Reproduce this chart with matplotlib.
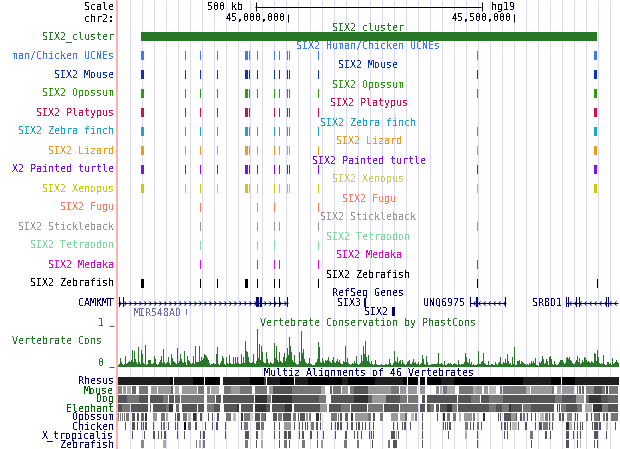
import numpy as np
import matplotlib
matplotlib.use("Agg")
import matplotlib.pyplot as plt
from matplotlib.path import Path

plt.rcParams['font.family'] = ['DejaVu Sans Mono']
plt.rcParams['text.antialiased'] = False

# ---------- data: browser columns ----------
cluster_span = (141, 597)
el_widths = {141: 3, 245: 3, 594: 3}
vert = [141, 185, 200, 217, 245, 249, 257, 274, 279, 287, 289, 318, 477, 594]
tracks = ["man/Chicken UCNEs", "SIX2 Mouse", "SIX2 Opossum", "SIX2 Platypus", "SIX2 Zebra finch",
          "SIX2 Lizard", "X2 Painted turtle", "SIX2 Xenopus", "SIX2 Fugu", "SIX2 Stickleback",
          "SIX2 Tetraodon", "SIX2 Medaka", "SIX2 Zebrafish"]
center_names = ["SIX2 Human/Chicken UCNEs", "SIX2 Mouse", "SIX2 Opossum", "SIX2 Platypus", "SIX2 Zebra finch",
                "SIX2 Lizard", "SIX2 Painted turtle", "SIX2 Xenopus", "SIX2 Fugu", "SIX2 Stickleback",
                "SIX2 Tetraodon", "SIX2 Medaka", "SIX2 Zebrafish"]
track_colors = ["#3f7bf0", "#0a35b8", "#339910", "#cc1155", "#1fa5c8", "#ee9a1a", "#7a11ee", "#cccc00",
                "#ff7b60", "#999999", "#7fdc9f", "#dd11cc", "#000000"]
center_colors = ["#3f7bf0", "#0a35b8", "#339910", "#cc1155", "#1fa5c8", "#ee9a1a", "#7a11ee", "#cccc66",
                 "#ff7b60", "#999999", "#7fdc9f", "#dd11cc", "#000000"]
track_elements = [
    vert, vert,
    vert,
    [141, 185, 200, 217, 245, 249, 274, 279, 287, 289, 318, 594],
    vert, vert, vert, vert,
    [200, 257, 274, 318],
    [200, 257, 274, 279, 318, 477],
    [200, 257, 274, 318],
    [200, 257, 274, 279, 318, 477],
    [141, 200, 217, 245, 257, 274, 279, 318, 477, 597],
]

cons_a = [2,3,9,5,3,2,3,11,3,4, 5,6,5,7,17,5,16,8,5,3, 20,5,3,17,13,4,3,22,2,3, 7,7,7,3,3,4,11,8,3,2,
          3,5,7,11,4,18,5,3,4,5, 10,4,2,13,9,6,5,4,3,19, 4,6,13,8,5,4,16,5,2,11, 7,6,4,3,4,11,3,21,5,5,
          5,21,6,10,7,9,13,12,11,9, 7,4,2,3,3,4,3,3,13,20, 3,2,4,6,11,9,3,2,10,4, 3,12,4,3,3,10,3,10,4,10,
          4,3,3,13,4,10,4,26]
cons_b = [16,15,10,5,4,4,5,13,4,3, 6,38,9,23,7,21,15,5,4,4, 15,8,4,3,5,4,3,4,24,9, 21,7,5,15,6,5,4,10,14,6,
          9,19,12,30,21,15,7,5,12,4, 3,2,3,15,6,36,14,18,8,5, 4,3,4,9,3,3,2,2,2,4, 5,8,25,20,5,4,9,6,4,7,
          6,7,10,6,5,4,7,10,5,4, 6,8,5,7,4,3,3,6,5,21, 5,9,4,3,2,3,4,3,6,4, 11,3,2,3,4,12,6,21,13,26,
          10,6,12,5,3,6,3,2,3,7]
cons_c = [3,2,2,2,2,3,2,2,2,3, 3,2,3,8,4,2,2,4,16,6, 5,10,4,6,7,3,7,4,3,2, 3,5,6,7,3,3,5,8,4,5,
          3,3,5,2,3,4,12,8,3,2, 11,5,2,2,2,3,3,3,3,3, 3,4,14,3,3,4,3,2,6,2, 2,3,4,3,4,3,2,3,4,3,
          3,2,7,3,2,3,3,3,5,14, 10,5,4,8,3,5,2,3,2,2, 2,3,16,3,3,5,6,14,4,3, 2,2,6,2,2,3,3,2,2,5]
cons_d = [3,2,4,5,10,3,3,5,4,8, 4,13,6,3,4,2,10,3,20,2, 2,6,6,7,3,6,5,4,3,3, 2,3,2,4,3,6,4,6,4,9,
          2,2,1,5,4,6,11,8,3,4, 8,6,2,10,11,8,3,2,6,3, 2,2,3,5,7,7,7,5,3,4, 9,10,8,10,7,6,4,3,3,5,
          7,11,5,9,3,4,7,5,10,9, 7,5,6,5,4,6,5,4,14,13, 6,17,10,4,3,4,3,12,3,2, 2,5,5,3,4,2,9,3,4,5,
          7,5,4]

rhesus = [(118,170,30),(170,173,0),(174,193,30),(193,204,0),(205,220,0),(223,250,30),(250,264,0),(264,266,60),
          (267,280,30),(280,294,0),(295,308,30),(308,342,0),(342,348,30),(348,375,0),(375,403,30),(403,407,0),
          (408,418,0),(420,425,0),(427,441,0),(441,454,30),(454,523,0),(523,551,30),(551,561,0),(562,575,0),(575,619,30)]
mouse = [(118,122,0x88),(123,126,0x99),(127,131,0xaa),(132,136,0x66),(139,148,0x77),(151,157,0x99),(158,171,0x99),
         (171,173,0x66),(175,179,0xaa),(182,197,0x99),(198,204,0x77),(207,210,0x88),(211,219,0xaa),(224,231,0x77),
         (231,240,0x99),(240,252,0x77),(255,267,0x77),(269,273,0x99),(273,292,0x55),(292,321,0x77),(321,325,0xaa),
         (330,332,0x66),(333,341,0x77),(342,348,0x99),(350,354,0x77),(354,368,0x55),(368,391,0x99),(391,399,0x77),
         (400,406,0x99),(408,417,0x99),(420,425,0x99),(436,439,0x88),(440,442,0xaa),(443,447,0x77),(447,455,0xaa),
         (459,473,0x77),(473,476,0xaa),(476,482,0x99),(484,488,0x99),(489,496,0xbb),(500,502,0x77),(503,526,0x77),
         (526,530,0xaa),(531,552,0x99),(552,554,0x77),(557,561,0xaa),(562,574,0x99),(577,578,0x66),(579,581,0x66),
         (582,584,0x66),(586,594,0x88),(594,602,0x55),(602,605,0x77),(606,608,0x44),(609,618,0x77)]
dog = [(118,127,0x55),(127,139,0x77),(139,148,0x55),(150,163,0x55),(163,168,0x77),(169,174,0x55),(175,180,0x66),
       (181,204,0x77),(207,215,0x77),(216,221,0x55),(223,254,0x55),(255,267,0x33),(267,271,0x77),(272,292,0x33),
       (292,319,0x55),(319,326,0x77),(331,354,0x55),(354,368,0x33),(368,372,0x66),(372,386,0x99),(386,400,0x55),
       (400,407,0x77),(408,418,0x77),(422,425,0x55),(427,457,0x55),(458,471,0x55),(471,480,0x77),(481,483,0x55),
       (483,489,0x55),(489,503,0x77),(503,529,0x55),(529,555,0x55),(555,562,0x77),(562,576,0x55),(576,584,0x99),
       (586,589,0x66),(589,601,0x33),(601,608,0x55),(608,618,0x66)]
elephant = [(118,122,0x55),(122,130,0x77),(131,148,0x55),(150,151,0x66),(153,166,0x55),(166,169,0x77),(169,173,0x33),
            (176,179,0x66),(182,197,0x55),(198,204,0x55),(207,214,0x77),(214,220,0x55),(224,237,0x55),(237,239,0x33),
            (241,253,0x55),(255,266,0x33),(266,270,0x55),(272,285,0x55),(285,292,0x33),(294,320,0x55),(320,327,0x99),
            (329,341,0x55),(341,350,0x77),(351,367,0x55),(368,383,0x77),(384,399,0x55),(400,408,0x77),(408,418,0x77),
            (420,425,0x55),(427,430,0x55),(430,434,0x77),(436,439,0x55),(440,447,0x55),(447,452,0x33),(452,457,0x77),
            (458,483,0x55),(483,489,0x55),(489,496,0x77),(496,502,0x55),(502,509,0x77),(509,511,0x33),(511,522,0x55),
            (523,531,0x77),(531,554,0x55),(557,558,0x44),(559,560,0x44),(561,566,0x77),(566,577,0x55),(577,582,0x77),
            (585,592,0xaa),(593,602,0x33),(602,608,0x77),(608,618,0x55)]
opossum = [(118,119,0x77),(120,121,0x77),(122,123,0x77),(124,125,0x77),(126,129,0x77),(132,135,0x55),(137,139,0x55),
           (141,144,0x66),(145,147,0x33),(153,157,0x99),(161,165,0x77),(166,168,0xaa),(175,176,0x55),(177,180,0x55),
           (183,187,0x77),(188,191,0xbb),(193,196,0x33),(196,197,0x77),(200,202,0x55),(208,209,0x55),(212,213,0x55),
           (217,219,0x55),(226,231,0x77),(233,236,0xbb),(241,243,0x33),(244,250,0x77),(250,253,0xcc),(255,260,0x55),
           (261,265,0x77),(265,266,0x55),(273,277,0x55),(278,282,0x77),(283,291,0x55),(293,296,0x77),(298,299,0x55),
           (300,305,0x55),(306,308,0x99),(309,311,0x77),(316,319,0x33),(320,321,0x55),(331,337,0x77),(338,339,0x77),
           (340,342,0x55),(345,348,0x66),(351,353,0x33),(355,368,0x99),(368,371,0x77),(373,375,0x55),(380,383,0x77),
           (391,398,0x99),(400,405,0xaa),(405,407,0x66),(411,414,0xbb),(415,417,0x77),(422,423,0x55),(430,431,0xdd),
           (437,438,0x55),(443,445,0x33),(447,450,0x77),(453,456,0x77),(459,461,0xbb),(464,472,0x99),(473,475,0x77),
           (477,479,0xcc),(483,485,0x33),(498,499,0x55),(500,501,0x55),(504,511,0x55),(511,516,0x99),(516,517,0x55),
           (520,522,0x55),(523,525,0x77),(527,528,0x55),(531,532,0x55),(535,536,0x55),(540,544,0xbb),(545,548,0x77),
           (549,550,0x55),(552,554,0x77),(559,561,0x55),(562,564,0x55),(567,572,0x88),(575,576,0x55),(577,578,0x55),
           (586,588,0x77),(591,592,0x55),(594,599,0x77),(599,600,0x55),(603,605,0x77),(606,608,0x55),(611,618,0x77)]
chicken = [(125,126,0x55),(132,135,0x55),(137,138,0x55),(141,142,0x55),(143,144,0x55),(145,147,0x55),(153,154,0x55),
           (161,162,0x55),(163,165,0x77),(168,169,0x55),(175,176,0x55),(177,178,0x55),(184,186,0x00),(188,191,0x77),
           (195,197,0x55),(205,206,0x55),(212,213,0x55),(216,218,0x55),(225,226,0x55),(241,242,0x55),(244,248,0x77),
           (256,260,0x55),(261,264,0x77),(274,275,0x55),(279,280,0x55),(284,291,0x99),(294,295,0x55),(299,300,0x55),
           (302,303,0x55),(305,306,0x55),(307,308,0x55),(311,314,0x77),(316,318,0x55),(320,321,0x55),(331,332,0x55),
           (335,336,0x55),(337,339,0x55),(340,342,0x55),(347,348,0x55),(351,353,0x55),(356,357,0x55),(358,360,0x55),
           (362,363,0x55),(365,366,0x55),(369,370,0x55),(373,374,0x55),(393,394,0x55),(397,398,0x55),(402,403,0x55),
           (404,406,0x55),(410,411,0x55),(422,423,0x55),(443,444,0x55),(445,446,0x55),(447,448,0x55),(449,451,0x55),
           (465,468,0x77),(470,471,0x55),(473,474,0x55),(477,479,0x77),(481,482,0x55),(501,502,0x55),(504,506,0x55),
           (507,508,0x55),(510,511,0x55),(512,517,0xbb),(518,519,0x55),(525,527,0x55),(535,536,0x55),(539,542,0x55),
           (543,548,0x77),(549,550,0x55),(552,553,0x55),(566,569,0x33),(569,572,0xbb),(574,575,0x55),(577,578,0x55),
           (580,581,0x55),(582,583,0x55),(592,593,0x55),(594,598,0x55),(599,601,0x55),(606,608,0xbb),(615,616,0x55)]
xtrop = [(132,133,0x55),(144,145,0x55),(153,155,0x55),(158,159,0x55),(161,162,0x55),(164,166,0x55),(177,178,0x55),
         (184,185,0x55),(200,201,0x55),(203,205,0x55),(225,226,0x55),(245,249,0x55),(256,258,0x55),(261,263,0xcc),
         (274,275,0x55),(279,280,0x55),(284,287,0x55),(288,291,0x55),(299,300,0x55),(302,304,0x55),(310,312,0x55),
         (317,318,0x55),(323,324,0x55),(335,336,0x55),(345,347,0x55),(354,355,0x55),(357,358,0x55),(361,362,0x55),
         (369,370,0x55),(371,372,0x55),(373,374,0x55),(391,395,0x55),(396,397,0xaa),(398,399,0x55),(422,423,0x55),
         (448,449,0x55),(465,467,0xaa),(477,478,0x55),(504,505,0x55),(507,508,0x55),(530,533,0x77),(545,547,0x55),
         (550,551,0x55),(566,569,0x55),(573,574,0x55),(577,578,0x55),(580,581,0x55),(594,598,0x55),(606,607,0x55)]
zebrafish = [(141,144,0x88),(163,166,0xaa),(196,197,0x77),(199,201,0xaa),(203,205,0x77),(245,248,0x77),(256,257,0x55),
             (261,263,0xaa),(279,280,0x55),(284,287,0x77),(289,290,0x55),(302,305,0x77),(317,318,0x55),(321,323,0x99),
             (344,347,0x77),(357,359,0x77),(372,373,0x55),(388,390,0x77),(393,397,0x55),(422,423,0x55),(477,478,0x55),
             (531,532,0x55),(566,569,0x55),(577,578,0x55),(580,581,0xbb),(594,595,0x55),(597,598,0x55)]
species = ["Rhesus", "Mouse", "Dog", "Elephant", "Opossum", "Chicken", "X_tropicalis", "Zebrafish"]
species_colors = ["#000070", "#006400", "#006400", "#006400", "#000070", "#000070", "#000070", "#000070"]
species_rows = [rhesus, mouse, dog, elephant, opossum, chicken, xtrop, zebrafish]

genes = [("CAMKMT", 118, 288, 302, 1, 114), ("UNQ6975", 470, 506, 302, -1, 465), ("SRBD1", 566, 618, 302, -1, 562)]
exons = [(256, 259), (260, 262), (274, 275), (279, 280), (287, 288), (119, 120), (123, 124),
         (470, 471), (476, 478), (505, 506), (566, 567), (568, 569), (576, 577), (579, 580), (606, 607), (608, 609)]
single_genes = [("SIX3", 364, 366, 298, 307, 361), ("SIX2", 392, 395, 307, 316, 388)]

GRID = np.arange(129, 620, 12)
NAVY = "#000070"
GREEN = "#287828"

fig = plt.figure(figsize=(6.2, 4.49), dpi=100, facecolor="white")
ax = fig.add_axes([0, 0, 1, 1])
ax.set_xlim(0, 620)
ax.set_ylim(449, 0)
ax.axis("off")

# grid
ax.vlines(GRID + 0.5, 0, 449, color="#dcdaf2", lw=0.72, zorder=0)
ax.vlines(116.5, 0, 449, color="#ffb0b0", lw=1.44, zorder=0.5)


def t(x, y, s, c="black", ha="right", **kw):
    # y is the centre of the capitals, so the baseline stays the same with or without descenders
    ax.text(x, y + 3.5, s, color=c, ha=ha, va="baseline", fontsize=7.2, zorder=5, **kw)


def bar(x0, x1, y0, y1, c, z=2):
    ax.fill_between([x0, x1], y0, y1, color=c, lw=0, antialiased=False, zorder=z)


# header
t(114, 7, "Scale")
t(114, 18, "chr2:")
t(243, 6, "500 kb")
t(491, 6, "hg19", ha="left")
t(286, 18, "45,000,000")
t(512, 18, "45,500,000")
ax.hlines(6.5, 255, 481, color="black", lw=0.72)
ax.vlines([255.5, 481.5], 2, 11, color="black", lw=0.72)
ax.vlines([287.5, 513.5], 14, 22, color="black", lw=0.72)

# cluster
t(114, 36, "SIX2_cluster", GREEN)
t(368.5, 27, "SIX2_cluster", GREEN, ha="center")
bar(cluster_span[0], cluster_span[1], 32, 41, GREEN)

# element tracks
for i, (name, cname, col, ccol, els) in enumerate(zip(tracks, center_names, track_colors, center_colors, track_elements)):
    top = 51 + 19 * i
    t(114, top + 4, name, col)
    t(368.5, top - 5, cname, ccol, ha="center")
    for e in els:
        w = el_widths.get(e, 1)
        bar(e, e + w, top, top + 9, col)

# genes
t(368.5, 293, "RefSeq Genes", NAVY, ha="center")
chev = Path([(-1, 1), (0, 0), (-1, -1)], [Path.MOVETO, Path.LINETO, Path.LINETO])
for name, x0, x1, y, d, lx in genes:
    t(lx, y, name, NAVY)
    ax.hlines(y + 0.5, x0, x1, color=NAVY, lw=0.72, zorder=3)
    xs = np.arange(x0 + 3, x1, 5)
    m = chev if d > 0 else Path(chev.vertices * [-1, 1], chev.codes)
    ax.plot(xs, np.full_like(xs, y + 0.5, dtype=float), ls="", marker=m, ms=3, mfc="none",
            mec=NAVY, mew=0.6, zorder=3)
for a, b in exons:
    bar(a, b, 297, 307, NAVY, z=3)
for name, a, b, y0, y1, lx in single_genes:
    bar(a, b, y0, y1, NAVY, z=3)
    t(lx, (y0 + y1) / 2, name, NAVY)
t(182, 312, "MIR548AD", "#6f6fb0")
bar(186, 187, 309, 315, "#6f6fb0")

# conservation
t(368.5, 322, "Vertebrate Conservation by PhastCons", GREEN, ha="center")
t(12.5, 340, "Vertebrate Cons", GREEN, ha="left")
t(104, 322, "1", GREEN)
t(104, 362, "0", GREEN)
ax.hlines([325.5, 366.5], 109, 114, color=GREEN, lw=0.72)
cons = np.array(cons_a + cons_b + cons_c + cons_d, dtype=float)
cx = 118 + np.arange(len(cons))
ax.bar(cx, -cons, bottom=367, width=1, align="edge", color=GREEN, lw=0, antialiased=False, zorder=2)

# alignments
t(368.5, 372, "Multiz Alignments of 46 Vertebrates", NAVY, ha="center")
for i, (sp, c, segs) in enumerate(zip(species, species_colors, species_rows)):
    top = 377 + 9 * i
    t(114, top + 4, sp, c)
    for a, b, g in segs:
        bar(a, b, top, top + 8, (g / 255, g / 255, g / 255), z=2)

fig.savefig("out.png", dpi=100)
